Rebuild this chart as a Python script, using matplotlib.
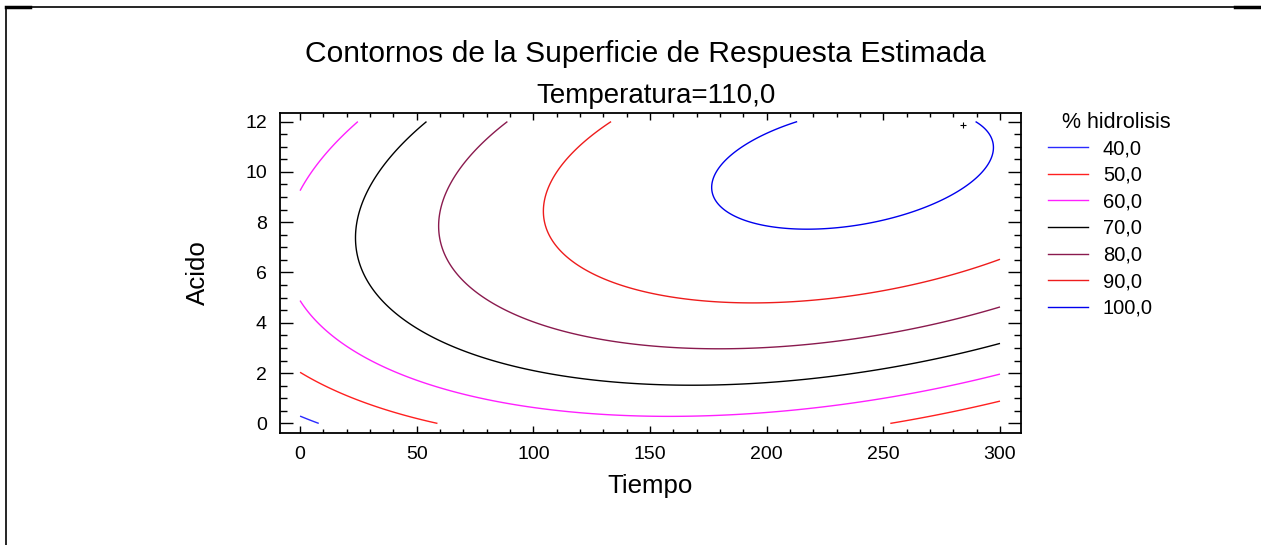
import numpy as np
import matplotlib
matplotlib.use("Agg")
import matplotlib.pyplot as plt
from matplotlib.lines import Line2D
from matplotlib.ticker import MultipleLocator

plt.rcParams['font.family'] = ['Liberation Sans', 'DejaVu Sans']

# Points on each iso-line of % hidrolisis (Temperatura = 110,0)
pts_level = [100, 100, 100, 100, 100, 100, 100, 100, 100,
             90, 90, 90, 90,
             80, 80, 80, 80, 80, 80,
             70, 70, 70, 70, 70, 70,
             60, 60, 60, 60, 60, 60, 60, 60, 60, 60,
             50, 50, 50, 50, 50,
             40, 40]
pts_tiempo = [176.7, 217.1, 297.1, 185.7, 192.9, 281.4, 254.3, 213.6, 289.7,
              133.0, 104.0, 195.0, 299.6,
              89.1, 72.9, 60.0, 59.1, 175.0, 300.0,
              54.0, 35.7, 25.7, 24.0, 165.0, 300.0,
              0.0, 7.1, 16.4, 25.0, 0.0, 49.0, 70.0, 160.0, 300.0, 145.7,
              0.0, 31.4, 58.6, 252.9, 299.7,
              0.0, 8.3]
pts_acido = [9.61, 7.72, 10.94, 8.22, 11.20, 9.15, 8.16, 11.98, 11.98,
             12.0, 8.6, 4.8, 6.53,
             12.0, 10.6, 8.5, 7.5, 3.0, 4.64,
             12.0, 10.28, 8.5, 7.42, 1.5, 3.18,
             9.18, 10.35, 11.27, 11.98, 4.94, 1.72, 1.13, 0.3, 1.96, 0.33,
             2.09, 0.66, 0.0, 0.0, 0.86,
             0.29, 0.0]

tiempo_range = [0.0, 300.0]
acido_range = [0.0, 12.0]

levels = [40.0, 50.0, 60.0, 70.0, 80.0, 90.0, 100.0]
level_labels = ["40,0", "50,0", "60,0", "70,0", "80,0", "90,0", "100,0"]
level_colors = ["#2a2aff", "#ff2020", "#ff20ff", "#000000", "#8a1a4e", "#ee1c1c", "#0000ee"]

marker_point = [284.0, 11.88]

x_ticks = [0, 50, 100, 150, 200, 250, 300]
y_ticks = [0, 2, 4, 6, 8, 10, 12]


def design(t, a):
    t = np.asarray(t, float) / 100.0
    a = np.asarray(a, float) / 10.0
    return np.stack([np.ones_like(t), t, a, t * t, a * a, t * a], axis=-1)


# second-order response surface fitted by least squares
beta, *_ = np.linalg.lstsq(design(pts_tiempo, pts_acido),
                           np.asarray(pts_level, float), rcond=None)

tx = np.linspace(tiempo_range[0], tiempo_range[1], 601)
ay = np.linspace(acido_range[0], acido_range[1], 481)
X, Y = np.meshgrid(tx, ay)
Z = design(X, Y) @ beta

fig = plt.figure(figsize=(12.61, 5.45), dpi=100)
W, H = 1261, 545
ax = fig.add_axes([280 / W, 1 - 432.7 / H, (1021 - 280) / W, (432.7 - 113.3) / H])

ax.contour(X, Y, Z, levels=levels, colors=level_colors, linewidths=1.0)
ax.plot(marker_point[0], marker_point[1], marker='+', color='black',
        markersize=5, markeredgewidth=0.8)

ax.set_xlim(-8.6, 309.0)
ax.set_ylim(-0.37, 12.33)
ax.set_xticks(x_ticks)
ax.set_yticks(y_ticks)
ax.xaxis.set_minor_locator(MultipleLocator(10))
ax.yaxis.set_minor_locator(MultipleLocator(0.5))
ax.tick_params(which='both', direction='in', top=True, right=True,
               labelsize=14, width=1.0, color='black')
ax.tick_params(axis='x', which='major', length=5.2, pad=9.5)
ax.tick_params(axis='x', which='minor', length=3.0)
ax.tick_params(axis='y', which='major', length=9.6, pad=9.5)
ax.tick_params(axis='y', which='minor', length=4.8)
for s in ax.spines.values():
    s.set_linewidth(1.3)

ax.set_xlabel("Tiempo", fontsize=18.6, labelpad=8)
ax.set_ylabel("Acido", fontsize=18.6, labelpad=25)

fig.text(645 / W, 1 - 54 / H, "Contornos de la Superficie de Respuesta Estimada",
         ha='center', va='center', fontsize=21.6)
fig.text(656 / W, 1 - 96 / H, "Temperatura=110,0",
         ha='center', va='center', fontsize=20)

fig.text(1062 / W, 1 - 122 / H, "% hidrolisis", ha='left', va='center', fontsize=15.5)
handles = [Line2D([0], [0], color=c, lw=1.0) for c in level_colors]
leg = fig.legend(handles, level_labels, loc='upper left',
                 bbox_to_anchor=(1048 / W, 1 - 139 / H),
                 frameon=False, fontsize=14.5, borderpad=0, borderaxespad=0,
                 handlelength=2.0, handletextpad=0.72, labelspacing=0.38)

# outer frame: top and left edges
fig.add_artist(Line2D([6 / W, 1255 / W], [1 - 7 / H, 1 - 7 / H], color='black', lw=1.2))
fig.add_artist(Line2D([6 / W, 6 / W], [1 - 7 / H, 0], color='black', lw=1.2))
fig.add_artist(Line2D([6 / W, 30 / W], [1 - 7 / H, 1 - 7 / H], color='black', lw=2.5))
fig.add_artist(Line2D([1235 / W, 1261 / W], [1 - 7 / H, 1 - 7 / H], color='black', lw=2.5))

fig.savefig("out.png", dpi=100)
